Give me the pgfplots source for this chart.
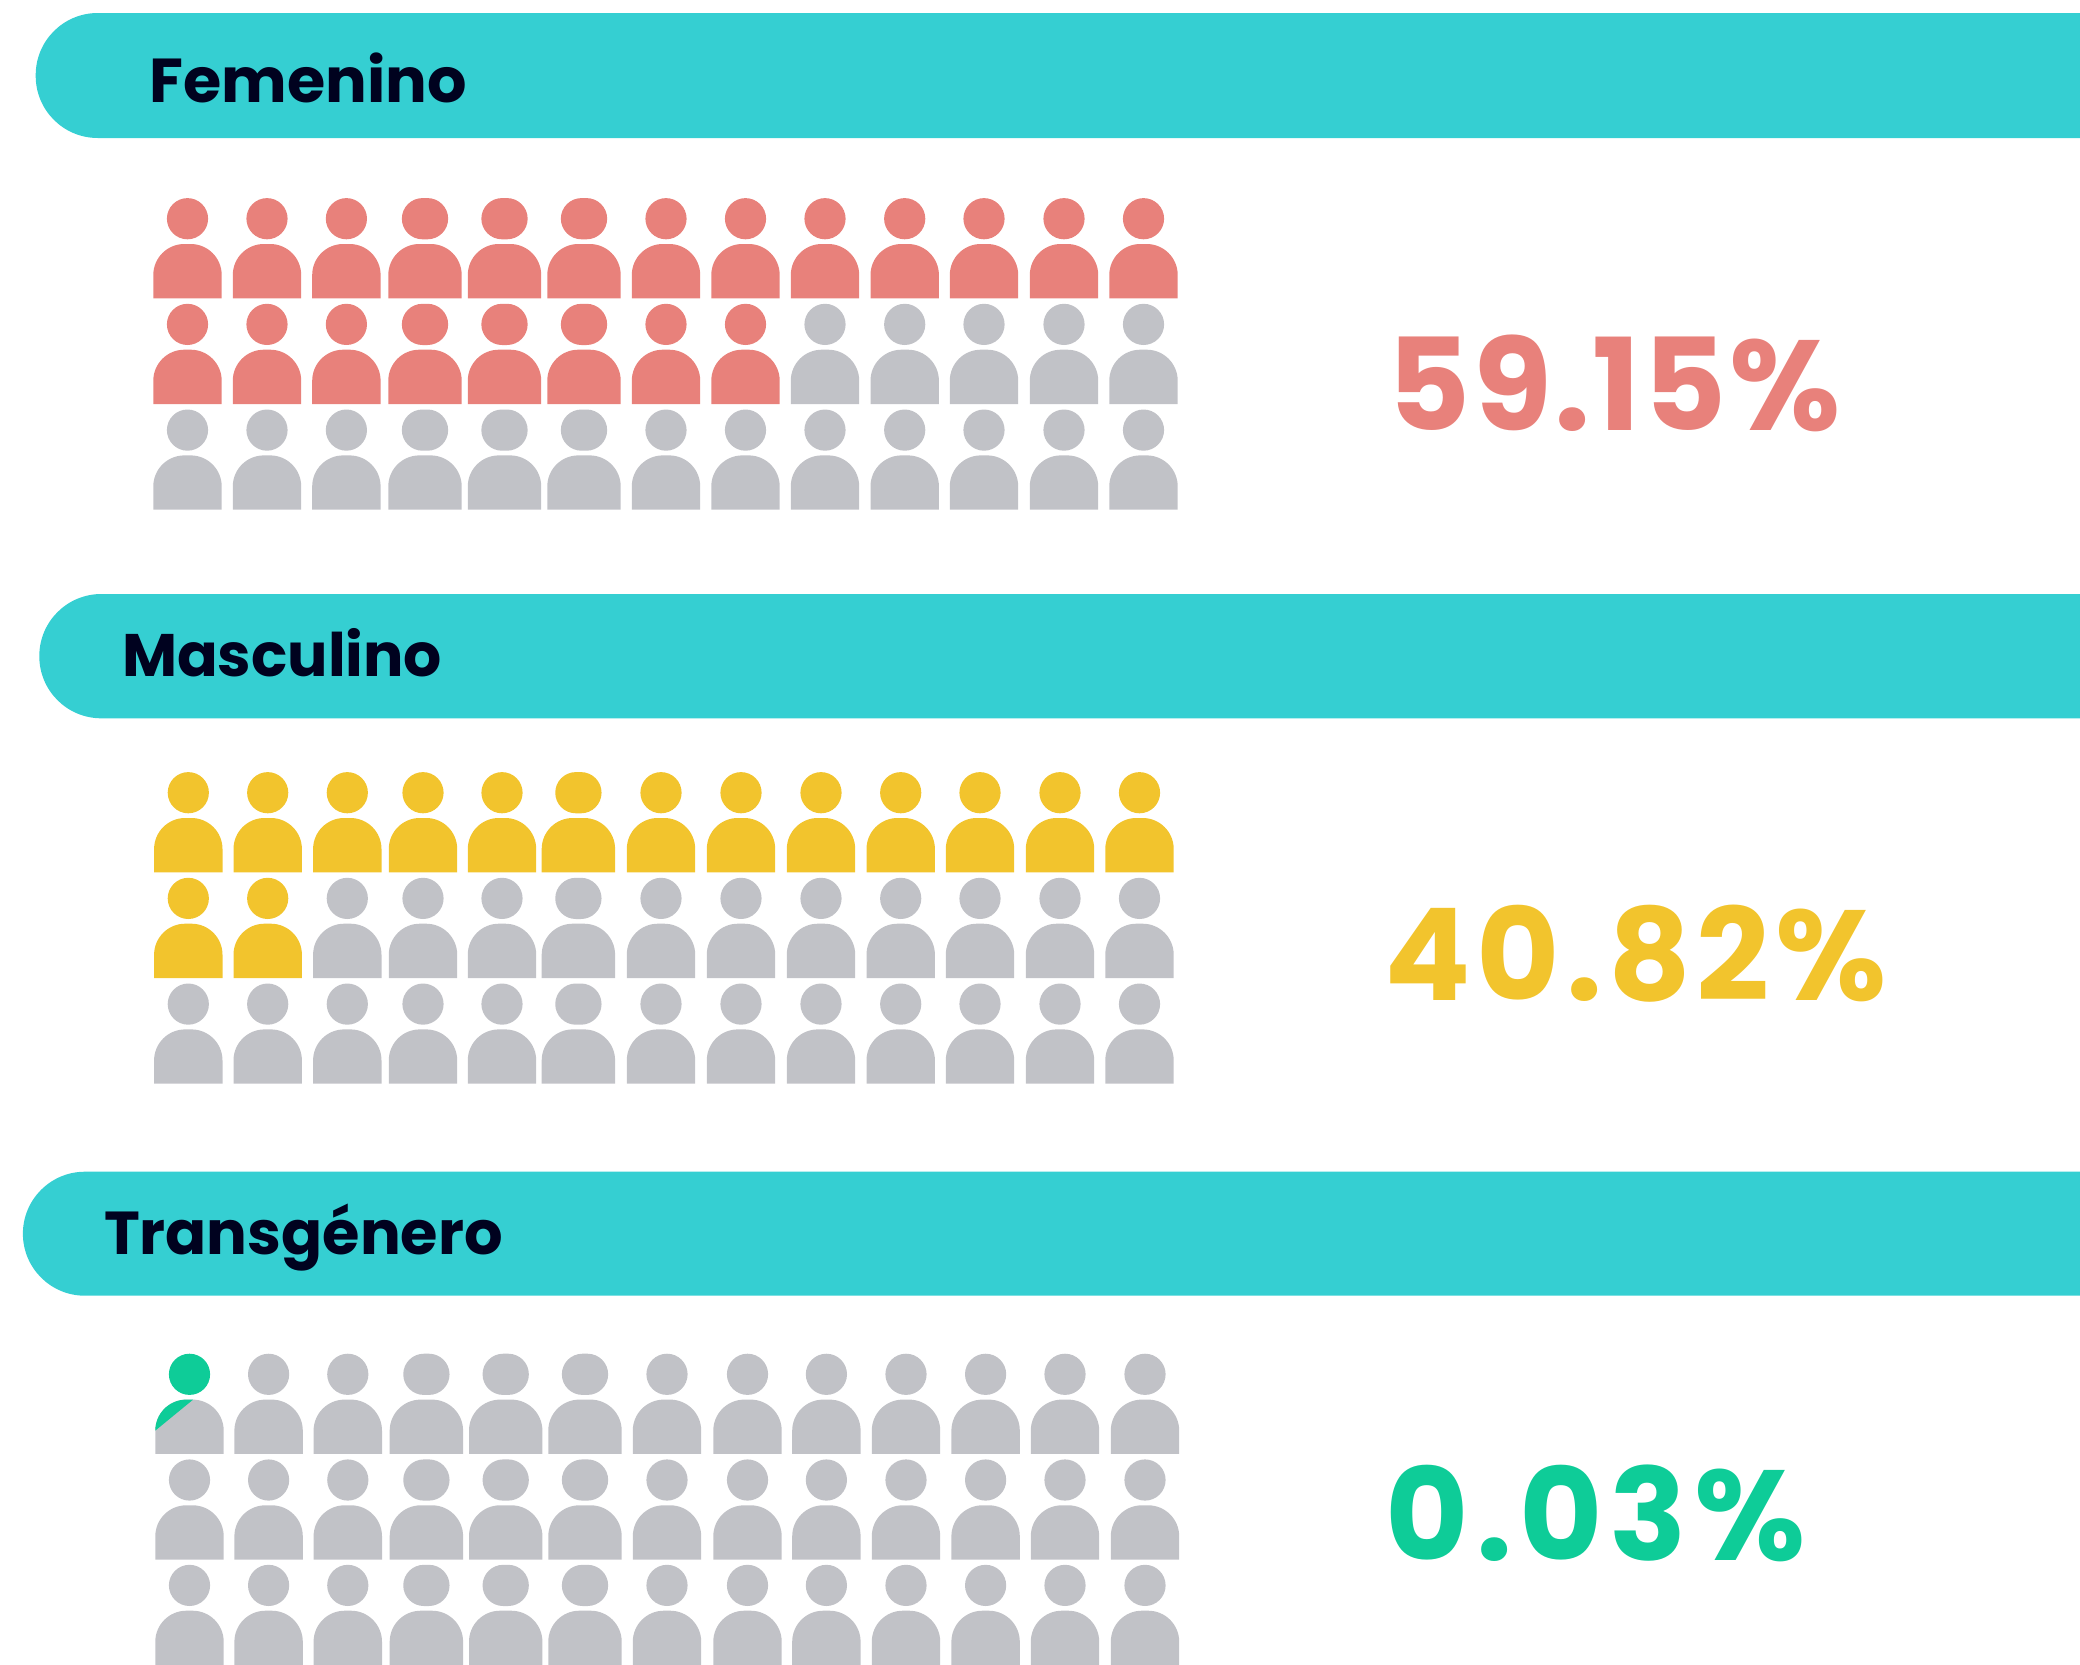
\documentclass[border=0pt]{standalone}
\usepackage{pgfplots}
\pgfplotsset{compat=1.18}
\usepackage{fontspec}
\setmainfont{Poppins}
\newfontfamily\lab{Poppins Bold}
\newfontfamily\numa[LetterSpace=1.9]{Poppins Bold}
\newfontfamily\numb[LetterSpace=4.5]{Poppins Bold}
\newfontfamily\numc[LetterSpace=5.5]{Poppins Bold}
\definecolor{band}{HTML}{35CFD2}
\definecolor{coral}{HTML}{E8817B}
\definecolor{gold}{HTML}{F2C42D}
\definecolor{grayp}{HTML}{C1C2C7}
\definecolor{mint}{HTML}{0ECC98}
\definecolor{ink}{HTML}{00021F}
% narrow person: origin at the centre of the head
\pgfdeclareplotmark{pn}{%
  \pgfpathcircle{\pgfpointorigin}{20.6pt}%
  \pgfpathmoveto{\pgfqpoint{-34.2pt}{-79.6pt}}%
  \pgfpathlineto{\pgfqpoint{-34.2pt}{-56.3pt}}%
  \pgfpathcurveto{\pgfqpoint{-34.2pt}{-39.2pt}}{\pgfqpoint{-20.3pt}{-25.3pt}}{\pgfqpoint{-3.2pt}{-25.3pt}}%
  \pgfpathlineto{\pgfqpoint{3.2pt}{-25.3pt}}%
  \pgfpathcurveto{\pgfqpoint{20.3pt}{-25.3pt}}{\pgfqpoint{34.2pt}{-39.2pt}}{\pgfqpoint{34.2pt}{-56.3pt}}%
  \pgfpathlineto{\pgfqpoint{34.2pt}{-79.6pt}}%
  \pgfpathclose\pgfusepathqfill}
% wide person
\pgfdeclareplotmark{pw}{%
  \pgfpathmoveto{\pgfqpoint{-2.55pt}{20.6pt}}%
  \pgfpathlineto{\pgfqpoint{2.55pt}{20.6pt}}%
  \pgfpathcurveto{\pgfqpoint{13.9pt}{20.6pt}}{\pgfqpoint{23.15pt}{11.4pt}}{\pgfqpoint{23.15pt}{0pt}}%
  \pgfpathcurveto{\pgfqpoint{23.15pt}{-11.4pt}}{\pgfqpoint{13.9pt}{-20.6pt}}{\pgfqpoint{2.55pt}{-20.6pt}}%
  \pgfpathlineto{\pgfqpoint{-2.55pt}{-20.6pt}}%
  \pgfpathcurveto{\pgfqpoint{-13.9pt}{-20.6pt}}{\pgfqpoint{-23.15pt}{-11.4pt}}{\pgfqpoint{-23.15pt}{0pt}}%
  \pgfpathcurveto{\pgfqpoint{-23.15pt}{11.4pt}}{\pgfqpoint{-13.9pt}{20.6pt}}{\pgfqpoint{-2.55pt}{20.6pt}}%
  \pgfpathclose
  \pgfpathmoveto{\pgfqpoint{-36.7pt}{-79.6pt}}%
  \pgfpathlineto{\pgfqpoint{-36.7pt}{-56.3pt}}%
  \pgfpathcurveto{\pgfqpoint{-36.7pt}{-39.2pt}}{\pgfqpoint{-22.8pt}{-25.3pt}}{\pgfqpoint{-5.7pt}{-25.3pt}}%
  \pgfpathlineto{\pgfqpoint{5.7pt}{-25.3pt}}%
  \pgfpathcurveto{\pgfqpoint{22.8pt}{-25.3pt}}{\pgfqpoint{36.7pt}{-39.2pt}}{\pgfqpoint{36.7pt}{-56.3pt}}%
  \pgfpathlineto{\pgfqpoint{36.7pt}{-79.6pt}}%
  \pgfpathclose\pgfusepathqfill}
% person filled for a small share: head and a wedge of the shoulder
\pgfdeclareplotmark{pp}{%
  \pgfsetfillcolor{grayp}%
  \pgfpathmoveto{\pgfqpoint{-34.2pt}{-79.6pt}}%
  \pgfpathlineto{\pgfqpoint{-34.2pt}{-56.3pt}}%
  \pgfpathcurveto{\pgfqpoint{-34.2pt}{-39.2pt}}{\pgfqpoint{-20.3pt}{-25.3pt}}{\pgfqpoint{-3.2pt}{-25.3pt}}%
  \pgfpathlineto{\pgfqpoint{3.2pt}{-25.3pt}}%
  \pgfpathcurveto{\pgfqpoint{20.3pt}{-25.3pt}}{\pgfqpoint{34.2pt}{-39.2pt}}{\pgfqpoint{34.2pt}{-56.3pt}}%
  \pgfpathlineto{\pgfqpoint{34.2pt}{-79.6pt}}%
  \pgfpathclose\pgfusepathqfill
  \pgfsetfillcolor{mint}%
  \pgfpathcircle{\pgfpointorigin}{20.6pt}%
  \pgfpathmoveto{\pgfqpoint{-34.2pt}{-56.3pt}}%
  \pgfpathcurveto{\pgfqpoint{-34.2pt}{-39.2pt}}{\pgfqpoint{-20.3pt}{-25.3pt}}{\pgfqpoint{-3.2pt}{-25.3pt}}%
  \pgfpathlineto{\pgfqpoint{3.6pt}{-25.3pt}}%
  \pgfpathclose\pgfusepathqfill}
\begin{document}
\begin{tikzpicture}
\begin{axis}[
  scale only axis, width=2080pt, height=1665pt,
  xmin=0, xmax=2080, ymin=0, ymax=1665, y dir=reverse,
  enlargelimits=false,
  hide axis, axis line style={draw=none},
  clip=true, clip marker paths=true,
  every node/.style={inner sep=0pt, outer sep=0pt},
]
% frame of the canvas: keeps the limits at 0..2080 and 0..1665
\addplot[draw=none, mark=none] coordinates {(0,0)(2080,1665)};
% header bands
\addplot[fill=band, draw=none, mark=none, rounded corners=62pt] coordinates {(2080,13)(35.7,13)(35.7,138)(2080,138)};
\addplot[fill=band, draw=none, mark=none, rounded corners=62pt] coordinates {(2080,594)(39.3,594)(39.3,718.3)(2080,718.3)};
\addplot[fill=band, draw=none, mark=none, rounded corners=62pt] coordinates {(2080,1171.7)(22.9,1171.7)(22.9,1295.7)(2080,1295.7)};
% Femenino
\addplot[only marks, mark=pn, mark options={fill=coral}] coordinates {
 (187.5,218.7)(267,218.7)(346.4,218.7)(666,218.7)(745.5,218.7)(825,218.7)(904.7,218.7)(984,218.7)(1064,218.7)(1143.5,218.7)
 (187.5,324.4)(267,324.4)(346.4,324.4)(666,324.4)(745.5,324.4)};
\addplot[only marks, mark=pw, mark options={fill=coral}] coordinates {
 (425,218.7)(504.5,218.7)(584,218.7)(425,324.4)(504.5,324.4)(584,324.4)};
\addplot[only marks, mark=pn, mark options={fill=grayp}] coordinates {
 (825,324.4)(904.7,324.4)(984,324.4)(1064,324.4)(1143.5,324.4)
 (187.5,430.1)(267,430.1)(346.4,430.1)(666,430.1)(745.5,430.1)(825,430.1)(904.7,430.1)(984,430.1)(1064,430.1)(1143.5,430.1)};
\addplot[only marks, mark=pw, mark options={fill=grayp}] coordinates {
 (425,430.1)(504.5,430.1)(584,430.1)};
% Masculino
\addplot[only marks, mark=pn, mark options={fill=gold}] coordinates {
 (188.3,792.7)(267.7,792.7)(347.3,792.7)(423,792.7)(502,792.7)(661,792.7)(741,792.7)(821,792.7)(900.7,792.7)(980,792.7)(1060,792.7)(1139.5,792.7)
 (188.3,898.4)(267.7,898.4)};
\addplot[only marks, mark=pw, mark options={fill=gold}] coordinates {(578.4,792.7)};
\addplot[only marks, mark=pn, mark options={fill=grayp}] coordinates {
 (347.3,898.4)(423,898.4)(502,898.4)(661,898.4)(741,898.4)(821,898.4)(900.7,898.4)(980,898.4)(1060,898.4)(1139.5,898.4)
 (188.3,1004.1)(267.7,1004.1)(347.3,1004.1)(423,1004.1)(502,1004.1)(661,1004.1)(741,1004.1)(821,1004.1)(900.7,1004.1)(980,1004.1)(1060,1004.1)(1139.5,1004.1)};
\addplot[only marks, mark=pw, mark options={fill=grayp}] coordinates {(578.4,898.4)(578.4,1004.1)};
% Transgenero
\addplot[only marks, mark=pp] coordinates {(189.5,1374.3)};
\addplot[only marks, mark=pn, mark options={fill=grayp}] coordinates {
 (268.6,1374.3)(347.8,1374.3)(667,1374.3)(747.5,1374.3)(826.4,1374.3)(906,1374.3)(985.6,1374.3)(1065,1374.3)(1145,1374.3)
 (189.5,1480)(268.6,1480)(347.8,1480)(667,1480)(747.5,1480)(826.4,1480)(906,1480)(985.6,1480)(1065,1480)(1145,1480)
 (189.5,1585.4)(268.6,1585.4)(347.8,1585.4)(667,1585.4)(747.5,1585.4)(826.4,1585.4)(906,1585.4)(985.6,1585.4)(1065,1585.4)(1145,1585.4)};
\addplot[only marks, mark=pw, mark options={fill=grayp}] coordinates {
 (426.4,1374.3)(505.7,1374.3)(585,1374.3)(426.4,1480)(505.7,1480)(585,1480)(426.4,1585.4)(505.7,1585.4)(585,1585.4)};
% labels
\node[anchor=base west, text=ink] at (axis cs:146,102) {\fontsize{62pt}{66pt}\lab Femenino};
\node[anchor=base west, text=ink] at (axis cs:118.5,676.7) {\fontsize{60pt}{66pt}\lab Masculino};
\node[anchor=base west, text=ink] at (axis cs:100.5,1254) {\fontsize{60.6pt}{66pt}\lab Transgénero};
\node[anchor=base west, text=coral] at (axis cs:1384,430) {\fontsize{128pt}{132pt}\numa 59.15\%};
\node[anchor=base west, text=gold] at (axis cs:1381,1000) {\fontsize{128pt}{132pt}\numb 40.82\%};
\node[anchor=base west, text=mint] at (axis cs:1382,1560) {\fontsize{128pt}{132pt}\numc 0.03\%};
\end{axis}
\end{tikzpicture}
\end{document}
